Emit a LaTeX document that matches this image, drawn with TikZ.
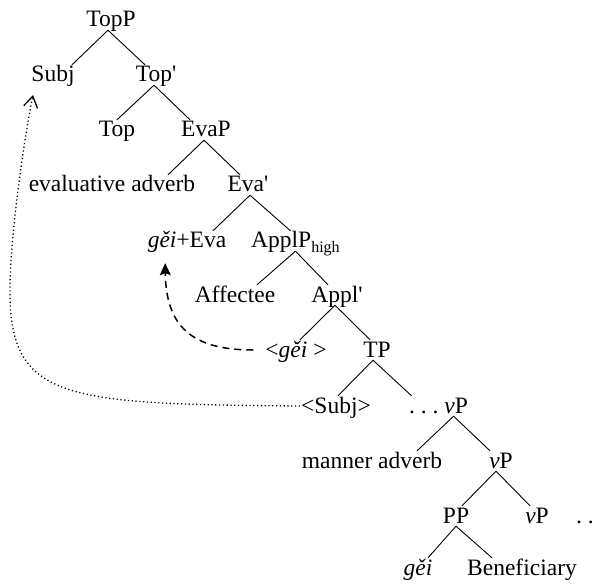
\documentclass[tikz,border=0pt]{standalone}
\usepackage{fontspec}
\setmainfont{Liberation Serif}
\usetikzlibrary{arrows.meta}
\frenchspacing

\begin{document}
\begin{tikzpicture}[x=1pt, y=-1pt,
    lbl/.style={anchor=base, inner sep=1pt, text height=16pt, text depth=2pt,
        font=\fontsize{23.5}{28}\selectfont},
    branch/.style={line width=0.9pt},
    movedot/.style={dash pattern=on 1.2pt off 2.6pt, line width=1.3pt,
        -{Straight Barb[length=11pt, width=14pt, line width=1.3pt]}},
    movedash/.style={dash pattern=on 7pt off 5pt, line width=1.5pt,
        -{Stealth[length=12pt, width=11pt, inset=2pt]}}]

    \useasboundingbox (0,0) rectangle (597,585);

    % Labels, row by row
    \node[lbl] (TopP) at (111,27) {TopP};
    \node[lbl] (Subj) at (53,82) {Subj};
    \node[lbl] (TopBar) at (156,82) {Top\textquotesingle};
    \node[lbl] (Top) at (117,137) {Top};
    \node[lbl] (EvaP) at (206,137) {EvaP};
    \node[lbl] (EvalAdv) at (112,192) {evaluative adverb};
    \node[lbl] (EvaBar) at (248,192) {Eva\textquotesingle};
    \node[lbl] (GeiEva) at (187,248) {\textit{gěi}+Eva};
    \node[lbl, anchor=base west] (ApplP) at (250,248)
        {ApplP\raisebox{-5pt}{\fontsize{16}{18}\selectfont high}};
    \node[lbl] (Affectee) at (235,302) {Affectee};
    \node[lbl] (ApplBar) at (337,302) {Appl\textquotesingle};
    \node[lbl] (GeiTrace) at (296,357) {<\textit{gěi} >};
    \node[lbl] (TP) at (377,357) {TP};
    \node[lbl] (SubjTrace) at (336,413) {<Subj>};
    \node[lbl, anchor=base west] (vPa) at (408,413) {. . . \textit{v}P};
    \node[lbl] (MannerAdv) at (372,468) {manner adverb};
    \node[lbl] (vPb) at (501,468) {\textit{v}P};
    \node[lbl] (PP) at (456,523) {PP};
    \node[lbl] (vPc) at (537,523) {\textit{v}P};
    \node[lbl, anchor=base west] (dotsB) at (575,523) {. .};
    \node[lbl] (Gei) at (418,575) {\textit{gěi}};
    \node[lbl] (Benef) at (522,575) {Beneficiary};

    % Branches
    \draw[branch] ([xshift=-3pt]TopP.south) -- ([xshift=19pt]Subj.north);
    \draw[branch] ([xshift=-3pt]TopP.south) -- ([xshift=-11pt]TopBar.north);
    \draw[branch] ([xshift=-2pt]TopBar.south) -- (Top.north);
    \draw[branch] ([xshift=-2pt]TopBar.south) -- ([xshift=-16pt]EvaP.north);
    \draw[branch] ([xshift=-2pt]EvaP.south) -- ([xshift=56pt]EvalAdv.north);
    \draw[branch] ([xshift=-2pt]EvaP.south) -- ([xshift=-8pt]EvaBar.north);
    \draw[branch] ([xshift=2pt]EvaBar.south) -- ([xshift=26pt]GeiEva.north);
    \draw[branch] ([xshift=2pt]EvaBar.south) -- ([xshift=-5pt]ApplP.north);
    \draw[branch] (ApplP.south) -- ([xshift=22pt]Affectee.north);
    \draw[branch] (ApplP.south) -- ([xshift=-9pt]ApplBar.north);
    \draw[branch] ([xshift=-2pt]ApplBar.south) -- ([xshift=4pt]GeiTrace.north);
    \draw[branch] ([xshift=-2pt]ApplBar.south) -- ([xshift=-7pt]TP.north);
    \draw[branch] ([xshift=-4pt]TP.south) -- ([xshift=2pt]SubjTrace.north);
    \draw[branch] ([xshift=-4pt]TP.south) -- ([xshift=-27pt]vPa.north);
    \draw[branch] ([xshift=15pt]vPa.south) -- ([xshift=45pt]MannerAdv.north);
    \draw[branch] ([xshift=15pt]vPa.south) -- ([xshift=-11pt]vPb.north);
    \draw[branch] ([xshift=-5pt]vPb.south) -- ([xshift=6pt]PP.north);
    \draw[branch] ([xshift=-5pt]vPb.south) -- ([xshift=-7pt]vPc.north);
    \draw[branch] (PP.south) -- ([xshift=10pt]Gei.north);
    \draw[branch] (PP.south) -- ([xshift=-30pt]Benef.north);

    % Movement of gei
    \draw[movedash, shorten <=11pt, shorten >=12pt] (GeiTrace.west)
        .. controls (190,350) and (166,325) .. ([xshift=-22pt]GeiEva.south);

    % Movement of the subject
    \draw[movedot, shorten >=10pt] (SubjTrace.west)
        .. controls (60,404) and (8,400) .. (10,285)
        .. controls (11,230) and (24,140) .. ([xshift=-18pt]Subj.south);

\end{tikzpicture}
\end{document}
